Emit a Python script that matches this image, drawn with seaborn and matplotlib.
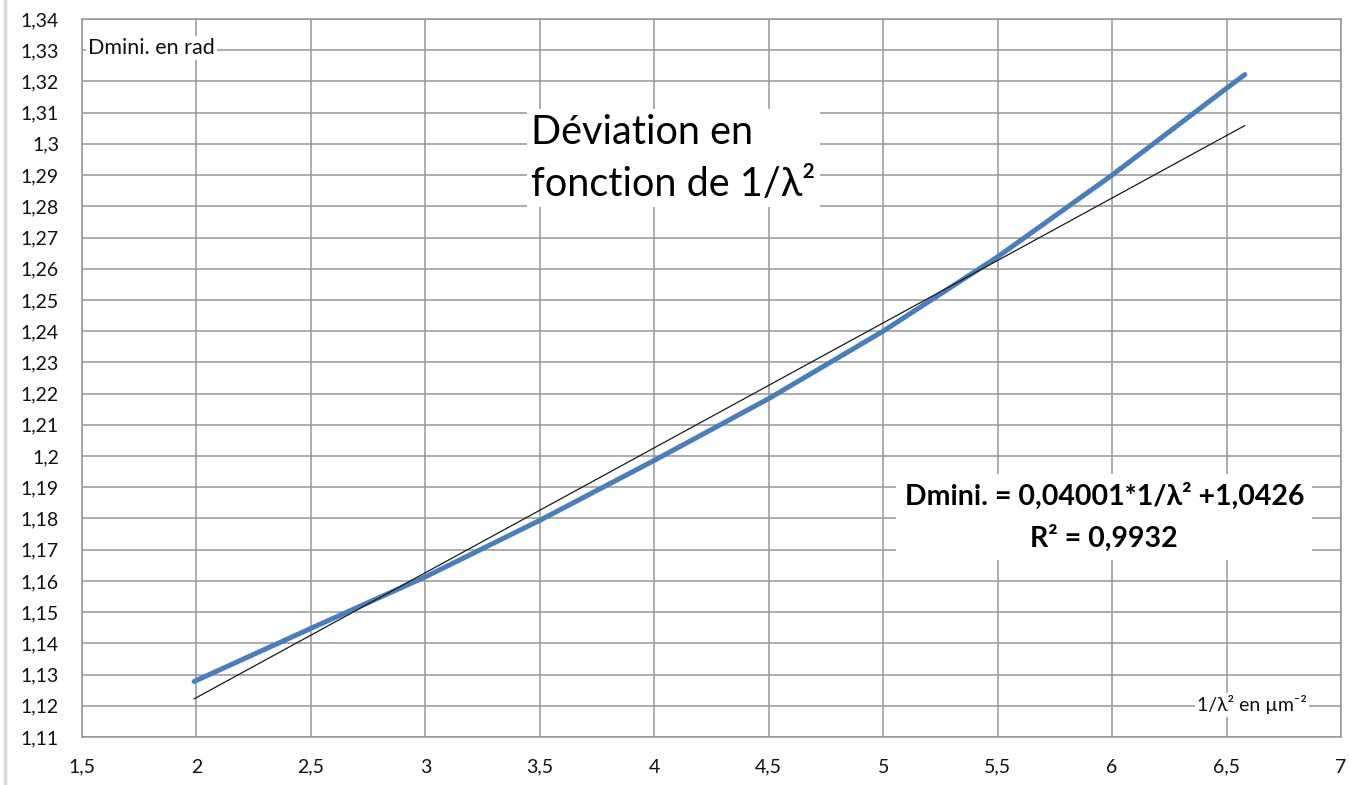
import numpy as np
import pandas as pd
import matplotlib
matplotlib.use("Agg")
import matplotlib.pyplot as plt
import seaborn as sns
from matplotlib.lines import Line2D

# data
inv_lambda2 = [1.99, 2.5, 3.0, 3.5, 4.0, 4.5, 5.0, 5.5, 6.0, 6.5, 6.58]
deviation = [1.1278, 1.1448, 1.1613, 1.1794, 1.1986, 1.2184, 1.2400, 1.2638, 1.2900, 1.3178, 1.3222]
slope = 0.04001
intercept = 1.0426
trend_x = [1.99, 6.58]

x_ticks = [1.5, 2, 2.5, 3, 3.5, 4, 4.5, 5, 5.5, 6, 6.5, 7]
x_tick_labels = ["1,5", "2", "2,5", "3", "3,5", "4", "4,5", "5", "5,5", "6", "6,5", "7"]
y_ticks = [round(1.11 + 0.01 * i, 2) for i in range(24)]
y_tick_labels = [f"{v:.2f}".replace(".", ",").rstrip("0").rstrip(",") for v in y_ticks]

sns.set_style("white")
plt.rcParams["font.family"] = ["Lato", "DejaVu Sans"]

df = pd.DataFrame({"x": inv_lambda2, "y": deviation})
trend = pd.DataFrame({"x": trend_x, "y": [slope * v + intercept for v in trend_x]})

fig = plt.figure(figsize=(13.49, 7.85), dpi=100)
ax = fig.add_axes([82 / 1349, 1 - 737 / 785, 1259 / 1349, 718 / 785])

sns.lineplot(data=df, x="x", y="y", ax=ax, color="#4A7EBB", linewidth=3.6,
             solid_capstyle="round", zorder=3)
sns.lineplot(data=trend, x="x", y="y", ax=ax, color="#1a1a1a", linewidth=0.9, zorder=4)

ax.set_xlim(1.5, 7)
ax.set_ylim(1.11, 1.34)
ax.set_xticks(x_ticks)
ax.set_xticklabels(x_tick_labels)
ax.set_yticks(y_ticks)
ax.set_yticklabels(y_tick_labels)
ax.set_xlabel("")
ax.set_ylabel("")
ax.grid(True, color="#969696", linewidth=1.1)
ax.set_axisbelow(True)
for s in ax.spines.values():
    s.set_color("#969696")
    s.set_linewidth(1.1)
ax.tick_params(axis="both", direction="out", length=6.5, width=1.1, color="#969696",
               labelsize=14, labelcolor="#111111")
ax.tick_params(axis="y", pad=10)
ax.tick_params(axis="x", pad=9)

# axis titles placed inside the plot, Excel-style
ax.text(0.005, 0.9596, "Dmini. en rad", transform=ax.transAxes, ha="left", va="center",
        fontsize=15.5, color="#111111", zorder=5,
        bbox=dict(facecolor="white", edgecolor="none", pad=1.5))
ax.text(0.973, 0.0446, "1/λ² en µm⁻²", transform=ax.transAxes, ha="right", va="center",
        fontsize=14, color="#111111", zorder=5,
        bbox=dict(facecolor="white", edgecolor="none", pad=1.5))

# chart title
ax.text(0.3566, 0.806, "Déviation en\nfonction de 1/λ²", transform=ax.transAxes,
        ha="left", va="center", fontsize=28.5, color="black", linespacing=1.5, zorder=5,
        bbox=dict(facecolor="white", edgecolor="none", pad=3))

# trendline equation
ax.text(0.812, 0.306, "Dmini. = 0,04001*1/λ² +1,0426\nR² = 0,9932", transform=ax.transAxes,
        ha="center", va="center", multialignment="center", fontsize=20.5, fontweight="bold",
        color="black", linespacing=1.7, zorder=5,
        bbox=dict(facecolor="white", edgecolor="none", pad=6))

fig.add_artist(Line2D([5 / 1349, 5 / 1349], [0, 1], transform=fig.transFigure,
                      color="#d9d9d9", linewidth=2.5))

fig.savefig("out.png", dpi=100)
